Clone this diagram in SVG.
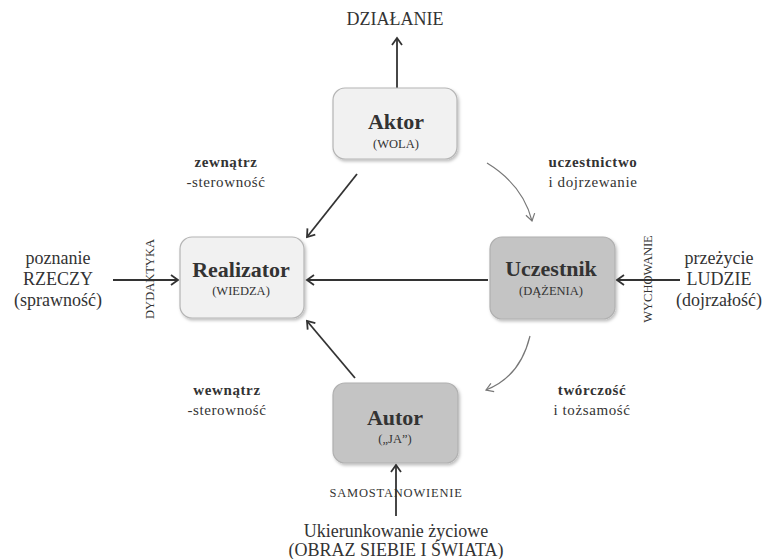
<svg xmlns="http://www.w3.org/2000/svg" width="765" height="559" viewBox="0 0 765 559">
<style>
text{font-family:"Liberation Serif","Times New Roman",serif;fill:#333;text-anchor:middle}
.t{font-size:22px;font-weight:bold}
.s{font-size:12.5px}
.lb{font-size:15px;font-weight:bold;letter-spacing:0.6px}
.l{font-size:15px;letter-spacing:0.6px}
.big{font-size:18px}
.sm{font-size:12.5px}
.light{fill:#f1f1f1;stroke:#b5b5b5;stroke-width:1.2}
.dark{fill:#c4c4c4;stroke:#b0b0b0;stroke-width:1.2}
.ln{stroke:#333;stroke-width:1.8;fill:none;marker-end:url(#a)}
.cv{stroke:#777;stroke-width:1.2;fill:none;marker-end:url(#b)}
</style>
<defs>
<marker id="a" markerWidth="12" markerHeight="12" refX="10" refY="6" orient="auto" markerUnits="userSpaceOnUse">
<polyline points="3,1 10,6 3,11" fill="none" stroke="#333" stroke-width="1.8"/>
</marker>
<marker id="b" markerWidth="12" markerHeight="12" refX="10" refY="6" orient="auto" markerUnits="userSpaceOnUse">
<polyline points="3,1.5 10,6 3,10.5" fill="none" stroke="#777" stroke-width="1.2"/>
</marker>
<filter id="sh" x="-10%" y="-10%" width="130%" height="130%">
<feDropShadow dx="1.5" dy="2" stdDeviation="1.5" flood-color="#000" flood-opacity="0.25"/>
</filter>
</defs>
<rect width="765" height="559" fill="#fff"/>
<g id="connectors">
<line class="ln" x1="397" y1="88" x2="397" y2="38"/>
<line class="ln" x1="357" y1="174" x2="307" y2="237"/>
<line class="ln" x1="488" y1="280" x2="307" y2="280"/>
<line class="ln" x1="113" y1="280" x2="178" y2="280"/>
<line class="ln" x1="680" y1="280" x2="617" y2="280"/>
<line class="ln" x1="355" y1="378" x2="307" y2="321"/>
<line class="ln" x1="396" y1="516" x2="396" y2="465"/>
<path class="cv" d="M487,163 Q523,185 532,221"/>
<path class="cv" d="M530,336 Q520,377 486,390"/>
</g>
<g id="aktor">
<rect class="light" filter="url(#sh)" x="333" y="88" width="124" height="71" rx="12"/>
<text class="t" x="396" y="129">Aktor</text>
<text class="s" x="396" y="148">(WOLA)</text>
</g>
<g id="realizator">
<rect class="light" filter="url(#sh)" x="180" y="237" width="124" height="81" rx="12"/>
<text class="t" x="241" y="277">Realizator</text>
<text class="s" x="241" y="295">(WIEDZA)</text>
</g>
<g id="uczestnik">
<rect class="dark" filter="url(#sh)" x="490" y="237" width="125" height="82" rx="12"/>
<text class="t" x="551" y="276">Uczestnik</text>
<text class="s" x="551" y="295">(DĄŻENIA)</text>
</g>
<g id="autor">
<rect class="dark" filter="url(#sh)" x="333" y="383" width="125" height="80" rx="12"/>
<text class="t" x="395" y="425">Autor</text>
<text class="s" x="395" y="443">(„JA”)</text>
</g>
<g id="labels">
<text class="big" x="395" y="25">DZIAŁANIE</text>
<text class="lb" x="226" y="167">zewnątrz</text>
<text class="l" x="226" y="187">-sterowność</text>
<text class="lb" x="593" y="167">uczestnictwo</text>
<text class="l" x="593" y="187">i dojrzewanie</text>
<text class="lb" x="227" y="395">wewnątrz</text>
<text class="l" x="227" y="415">-sterowność</text>
<text class="lb" x="592" y="395">twórczość</text>
<text class="l" x="592" y="415">i tożsamość</text>
<text class="big" x="58" y="264">poznanie</text>
<text class="big" x="58" y="285">RZECZY</text>
<text class="big" x="58" y="306">(sprawność)</text>
<text class="big" x="719" y="264">przeżycie</text>
<text class="big" x="719" y="285">LUDZIE</text>
<text class="big" x="719" y="306">(dojrzałość)</text>
<text class="sm" transform="translate(154,279) rotate(-90)">DYDAKTYKA</text>
<text class="sm" transform="translate(652,279) rotate(-90)">WYCHOWANIE</text>
<text class="sm" x="396" y="497" style="letter-spacing:0.8px">SAMOSTANOWIENIE</text>
<text class="big" x="396" y="537">Ukierunkowanie życiowe</text>
<text class="big" x="396" y="556">(OBRAZ SIEBIE I ŚWIATA)</text>
</g>
</svg>
